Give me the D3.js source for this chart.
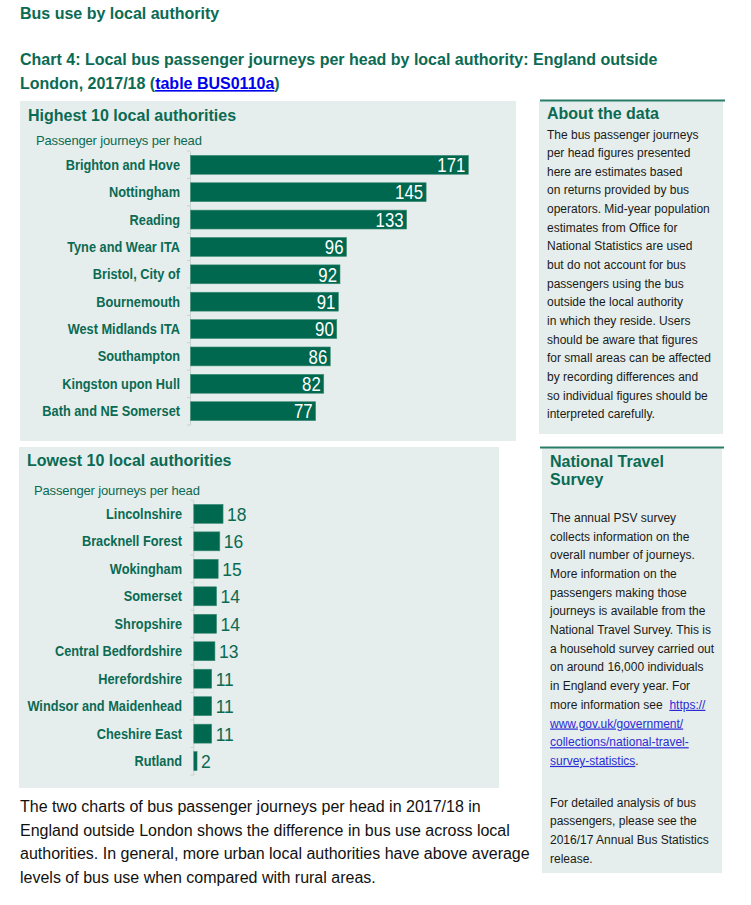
<!DOCTYPE html>
<html>
<head>
<meta charset="utf-8">
<script src="https://cdn.jsdelivr.net/npm/d3@7/dist/d3.min.js"></script>
<style>
  html, body { margin: 0; padding: 0; background: #ffffff; }
  svg { display: block; }
  text { font-family: "Liberation Sans", Arial, Helvetica, sans-serif; }
</style>
</head>
<body>
<div id="chart"></div>
<script>
// ---------------- DATA ----------------
const highNames = ["Brighton and Hove", "Nottingham", "Reading", "Tyne and Wear ITA", "Bristol, City of",
  "Bournemouth", "West Midlands ITA", "Southampton", "Kingston upon Hull", "Bath and NE Somerset"];
const highValues = [171, 145, 133, 96, 92, 91, 90, 86, 82, 77];

const lowNames = ["Lincolnshire", "Bracknell Forest", "Wokingham", "Somerset", "Shropshire",
  "Central Bedfordshire", "Herefordshire", "Windsor and Maidenhead", "Cheshire East", "Rutland"];
const lowValues = [18, 16, 15, 14, 14, 13, 11, 11, 11, 2];

const headerTitle = "Bus use by local authority";
const chartTitle1 = "Chart 4: Local bus passenger journeys per head by local authority: England outside";
const chartTitle2a = "London, 2017/18 (";
const chartTitleLink = "table BUS0110a";
const chartTitle2b = ")";
const highTitle = "Highest 10 local authorities";
const lowTitle = "Lowest 10 local authorities";
const axisTitle = "Passenger journeys per head";

const aboutTitle = "About the data";
const aboutLines = ["The bus passenger journeys", "per head figures presented", "here are estimates based",
  "on returns provided by bus", "operators. Mid-year population", "estimates from Office for",
  "National Statistics are used", "but do not account for bus", "passengers using the bus",
  "outside the local authority", "in which they reside. Users", "should be aware that figures",
  "for small areas can be affected", "by recording differences and", "so individual figures should be",
  "interpreted carefully."];

const ntsTitle = ["National Travel", "Survey"];
const ntsLines = ["The annual PSV survey", "collects information on the", "overall number of journeys.",
  "More information on the", "passengers making those", "journeys is available from the",
  "National Travel Survey. This is", "a household survey carried out", "on around 16,000 individuals",
  "in England every year. For"];
const ntsLinkLead = "more information see  ";
const ntsLinkLines = ["https://", "www.gov.uk/government/", "collections/national-travel-", "survey-statistics"];
const ntsLines2 = ["For detailed analysis of bus", "passengers, please see the",
  "2016/17 Annual Bus Statistics", "release."];

const paraLines = ["The two charts of bus passenger journeys per head in 2017/18 in",
  "England outside London shows the difference in bus use across local",
  "authorities. In general, more urban local authorities have above average",
  "levels of bus use when compared with rural areas."];

// ---------------- STYLE ----------------
const W = 751, H = 905;
const GREEN = "#00684f";
const TEXTGREEN = "#0b6a53";
const PANEL = "#e5eeec";
const LINK = "#0000ee";

const svg = d3.select("#chart").append("svg").attr("width", W).attr("height", H);

// Header
svg.append("text").attr("x", 20).attr("y", 19).attr("font-size", 16).attr("font-weight", "bold")
  .attr("fill", TEXTGREEN).text(headerTitle);
svg.append("text").attr("x", 20).attr("y", 65).attr("font-size", 16).attr("font-weight", "bold")
  .attr("fill", TEXTGREEN).text(chartTitle1);
const t2 = svg.append("text").attr("x", 20).attr("y", 89).attr("font-size", 16).attr("font-weight", "bold")
  .attr("fill", TEXTGREEN);
t2.append("tspan").text(chartTitle2a);
t2.append("tspan").attr("fill", LINK).attr("text-decoration", "underline").text(chartTitleLink);
t2.append("tspan").text(chartTitle2b);

// Panels
svg.append("rect").attr("x", 20).attr("y", 101).attr("width", 496).attr("height", 340).attr("fill", PANEL);
svg.append("rect").attr("x", 19).attr("y", 447).attr("width", 480).attr("height", 341).attr("fill", PANEL);

// ---------------- Bar chart function ----------------
function barChart(cfg) {
  const g = svg.append("g");
  g.append("text").attr("x", cfg.titleX).attr("y", cfg.titleY).attr("font-size", 16).attr("font-weight", "bold")
    .attr("fill", TEXTGREEN).text(cfg.title);
  g.append("text").attr("x", cfg.subX).attr("y", cfg.subY).attr("font-size", 13).attr("letter-spacing", -0.15)
    .attr("fill", TEXTGREEN).text(axisTitle);

  const y = d3.scaleBand().domain(cfg.names).range(cfg.yRange).paddingInner(0.31).paddingOuter(0.16);
  const x = d3.scaleLinear().domain([0, 180]).range([cfg.x0, cfg.x0 + 1.625 * 180]);

  // axis line & ticks at band boundaries
  const ax = g.append("g").attr("transform", `translate(${cfg.x0 - 0.5},0)`)
    .call(d3.axisLeft(y).tickValues([]).tickSizeOuter(0));
  ax.select(".domain").attr("stroke", "#c9d3d0").attr("stroke-width", 1);
  const edges = cfg.names.map(n => y(n) - y.step() * y.paddingInner() / 2).concat([cfg.yRange[1]]);
  g.selectAll(".edge").data(edges).join("line")
    .attr("x1", cfg.x0 - 3.5).attr("x2", cfg.x0 - 0.5)
    .attr("y1", d => d).attr("y2", d => d)
    .attr("stroke", "#c9d3d0").attr("stroke-width", 1);

  const data = cfg.names.map((n, i) => ({ n, v: cfg.values[i] }));

  g.selectAll(".bar").data(data).join("rect")
    .attr("x", x(0)).attr("y", d => y(d.n))
    .attr("width", d => x(d.v) - x(0)).attr("height", y.bandwidth())
    .attr("fill", GREEN).attr("stroke", "#3d8c77").attr("stroke-width", 0.6);

  // category labels (condensed bold)
  g.selectAll(".lab").data(data).join("text")
    .attr("transform", d => `translate(${cfg.labelX},${y(d.n) + y.bandwidth() / 2 + 5}) scale(0.9,1)`)
    .attr("text-anchor", "end").attr("font-size", 14.2).attr("font-weight", "bold")
    .attr("fill", TEXTGREEN).text(d => d.n);

  // value labels
  if (cfg.inside) {
    g.selectAll(".val").data(data).join("text")
      .attr("transform", d => `translate(${x(d.v) - 3},${y(d.n) + y.bandwidth() / 2 + 7.2}) scale(0.84,1)`)
      .attr("text-anchor", "end").attr("font-size", 20).attr("fill", "#ffffff").text(d => d.v);
  } else {
    g.selectAll(".val").data(data).join("text")
      .attr("transform", d => `translate(${x(d.v) + 4},${y(d.n) + y.bandwidth() / 2 + 7}) scale(0.93,1)`)
      .attr("text-anchor", "start").attr("font-size", 18.8).attr("fill", TEXTGREEN).text(d => d.v);
  }
}

barChart({ names: highNames, values: highValues, title: highTitle, titleX: 28, titleY: 120.5,
  subX: 36, subY: 144.5, yRange: [151, 425], x0: 190.5, labelX: 180, inside: true });
barChart({ names: lowNames, values: lowValues, title: lowTitle, titleX: 27, titleY: 466,
  subX: 34, subY: 495, yRange: [500, 775], x0: 193.8, labelX: 182, inside: false });

// ---------------- Right panels ----------------
svg.append("rect").attr("x", 539).attr("y", 101).attr("width", 184).attr("height", 333).attr("fill", PANEL);
svg.append("line").attr("x1", 540).attr("x2", 725).attr("y1", 100.5).attr("y2", 100.5)
  .attr("stroke", "#2a7d68").attr("stroke-width", 2);
svg.append("text").attr("x", 547).attr("y", 119).attr("font-size", 16).attr("font-weight", "bold")
  .attr("fill", TEXTGREEN).text(aboutTitle);
svg.selectAll(".about").data(aboutLines).join("text")
  .attr("x", 547).attr("y", (d, i) => 138.5 + i * 18.65).attr("font-size", 12).attr("fill", "#1a1a1a").text(d => d);

svg.append("rect").attr("x", 542).attr("y", 448).attr("width", 180).attr("height", 425).attr("fill", PANEL);
svg.append("line").attr("x1", 540).attr("x2", 724).attr("y1", 447.5).attr("y2", 447.5)
  .attr("stroke", "#2a7d68").attr("stroke-width", 2);
svg.selectAll(".ntst").data(ntsTitle).join("text")
  .attr("x", 550).attr("y", (d, i) => 466.5 + i * 18.5).attr("font-size", 16).attr("font-weight", "bold")
  .attr("fill", TEXTGREEN).text(d => d);
const NB = 521.8, NP = 18.7;
svg.selectAll(".nts").data(ntsLines).join("text")
  .attr("x", 550).attr("y", (d, i) => NB + i * NP).attr("font-size", 12).attr("fill", "#1a1a1a").text(d => d);
ntsLinkLines.forEach((s, i) => {
  const t = svg.append("text").attr("x", 550).attr("y", NB + (ntsLines.length + i) * NP)
    .attr("font-size", 12).attr("fill", "#1a1a1a");
  if (i === 0) t.append("tspan").attr("xml:space", "preserve").text(ntsLinkLead);
  t.append("tspan").attr("fill", "#2b2bd6").attr("text-decoration", "underline").text(s);
  if (i === ntsLinkLines.length - 1) t.append("tspan").text(".");
});
svg.selectAll(".nts2").data(ntsLines2).join("text")
  .attr("x", 550).attr("y", (d, i) => 806.5 + i * NP).attr("font-size", 12).attr("fill", "#1a1a1a").text(d => d);

// ---------------- Paragraph ----------------
svg.selectAll(".para").data(paraLines).join("text")
  .attr("x", 20).attr("y", (d, i) => 812 + i * 23.5).attr("font-size", 16).attr("fill", "#111111").text(d => d);
</script>
</body>
</html>
